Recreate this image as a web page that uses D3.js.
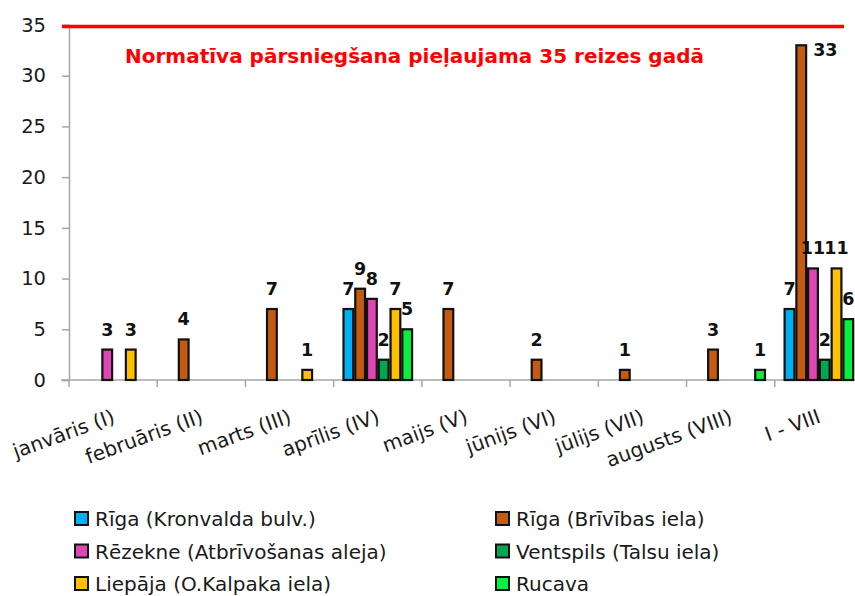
<html><head>
<script src="https://d3js.org/d3.v7.min.js"></script>
<style>
  body { margin: 0; background: #fff; }
  svg text { font-family: "DejaVu Sans", sans-serif; }
  .axis line, .axis path { stroke: #a6a6a6; stroke-width: 1.5px; }
</style>
</head>
<body>
<svg id="chart" width="855" height="596"></svg>
<script>

// categories and series values
const months = ["janvāris (I)", "februāris (II)", "marts (III)", "aprīlis (IV)", "maijs (V)",
                "jūnijs (VI)", "jūlijs (VII)", "augusts (VIII)", "I - VIII"];
const seriesNames = ["Rīga (Kronvalda bulv.)", "Rīga (Brīvības iela)", "Rēzekne (Atbrīvošanas aleja)",
                     "Ventspils (Talsu iela)", "Liepāja (O.Kalpaka iela)", "Rucava"];
const rigaKronvalda = [0, 0, 0, 7, 0, 0, 0, 0, 7];
const rigaBrivibas  = [0, 4, 7, 9, 7, 2, 1, 3, 33];
const rezekne       = [3, 0, 0, 8, 0, 0, 0, 0, 11];
const ventspils     = [0, 0, 0, 2, 0, 0, 0, 0, 2];
const liepaja       = [3, 0, 1, 7, 0, 0, 0, 0, 11];
const rucava        = [0, 0, 0, 5, 0, 0, 0, 1, 6];
const yTicks = [0, 5, 10, 15, 20, 25, 30, 35];
const limit = 35;
const limitText = "Normatīva pārsniegšana pieļaujama 35 reizes gadā";

const allSeries = [rigaKronvalda, rigaBrivibas, rezekne, ventspils, liepaja, rucava];
const colors = ["#00b0f0", "#c55a11", "#df45b3", "#00a650", "#ffc000", "#08f040"];

const svg = d3.select("svg#chart");
const width = +svg.attr("width");
const height = +svg.attr("height");
const margins = {top: 25, right: -8, bottom: 216, left: 69};
const chartHeight = height - margins.top - margins.bottom;

// x: one band per month, bars inside it
const x0 = d3.scaleBand().domain(months).range([margins.left, width - margins.right]);
const x1 = d3.scaleBand().domain(d3.range(allSeries.length)).range([0, x0.bandwidth()]).paddingOuter(0.75);
const y = d3.scaleLinear().domain([0, 35]).range([margins.top + chartHeight, margins.top]);

// y axis
const leftAxis = d3.axisLeft(y).tickValues(yTicks).tickSize(7).tickPadding(16);
svg.append("g")
   .attr("class", "y axis")
   .attr("transform", "translate(" + margins.left + ",0)")
   .call(leftAxis)
   .call(g => g.selectAll("text").attr("font-size", 19.5).attr("fill", "#1a1a1a"));

// x axis: ticks between the categories
const bottomAxis = d3.axisBottom(x0).tickSize(0).tickFormat("");
const xAxis = svg.append("g")
   .attr("class", "x axis")
   .attr("transform", "translate(0," + y(0) + ")")
   .call(bottomAxis);
xAxis.select(".domain").attr("d", "M" + (margins.left - 8) + ",0H" + width);
xAxis.selectAll(".sep")
   .data(months)
   .join("line")
   .attr("class", "sep")
   .attr("x1", d => x0(d)).attr("x2", d => x0(d))
   .attr("y1", 0).attr("y2", 7);

// rotated month labels
svg.append("g").selectAll("text")
   .data(months)
   .join("text")
   .attr("transform", d => "translate(" + (x0(d) + x0.bandwidth() / 2 + 3) + "," + (y(0) + 42) + ") rotate(-20)")
   .attr("text-anchor", "end")
   .attr("font-size", 20)
   .attr("fill", "#1a1a1a")
   .text(d => d);

// bars
const bars = [];
allSeries.forEach((vals, s) => {
  vals.forEach((v, i) => {
    if (v > 0) bars.push({s: s, month: months[i], value: v});
  });
});

svg.append("g").selectAll("rect")
   .data(bars)
   .join("rect")
   .attr("x", d => x0(d.month) + x1(d.s) + 1)
   .attr("y", d => y(d.value))
   .attr("width", x1.bandwidth() - 2)
   .attr("height", d => y(0) - y(d.value))
   .attr("fill", d => colors[d.s])
   .attr("stroke", "#111")
   .attr("stroke-width", 2.2);

// value labels (the tallest one sits beside its bar)
svg.append("g").selectAll("text")
   .data(bars)
   .join("text")
   .attr("x", d => d.value > 30 ? x0(d.month) + x1(d.s) + x1.bandwidth() + 6 : x0(d.month) + x1(d.s) + x1.bandwidth() / 2)
   .attr("y", d => d.value > 30 ? y(d.value) + 11 : y(d.value) - 14)
   .attr("text-anchor", d => d.value > 30 ? "start" : "middle")
   .attr("font-size", 17.5)
   .attr("font-weight", "bold")
   .attr("fill", "#111")
   .text(d => d.value);

// limit line and its note
svg.append("line")
   .attr("x1", margins.left - 7).attr("x2", width - 11)
   .attr("y1", y(limit) + 1.5).attr("y2", y(limit) + 1.5)
   .attr("stroke", "#ff0000")
   .attr("stroke-width", 3.5);

svg.append("text")
   .attr("x", 125)
   .attr("y", y(limit) + 38)
   .attr("font-size", 20)
   .attr("font-weight", "bold")
   .attr("fill", "#ff0000")
   .text(limitText);

// legend, two columns
const legend = svg.append("g").selectAll("g")
   .data(seriesNames)
   .join("g")
   .attr("transform", (d, i) => "translate(" + (i % 2 === 0 ? 75 : 496) + "," + (511 + Math.floor(i / 2) * 32.5) + ")");

legend.append("rect")
   .attr("width", 13).attr("height", 13)
   .attr("y", 1)
   .attr("fill", (d, i) => colors[i])
   .attr("stroke", "#111")
   .attr("stroke-width", 2);

legend.append("text")
   .attr("x", 20)
   .attr("y", 15)
   .attr("font-size", 20)
   .attr("fill", "#1a1a1a")
   .text(d => d);

</script>
</body>
</html>
